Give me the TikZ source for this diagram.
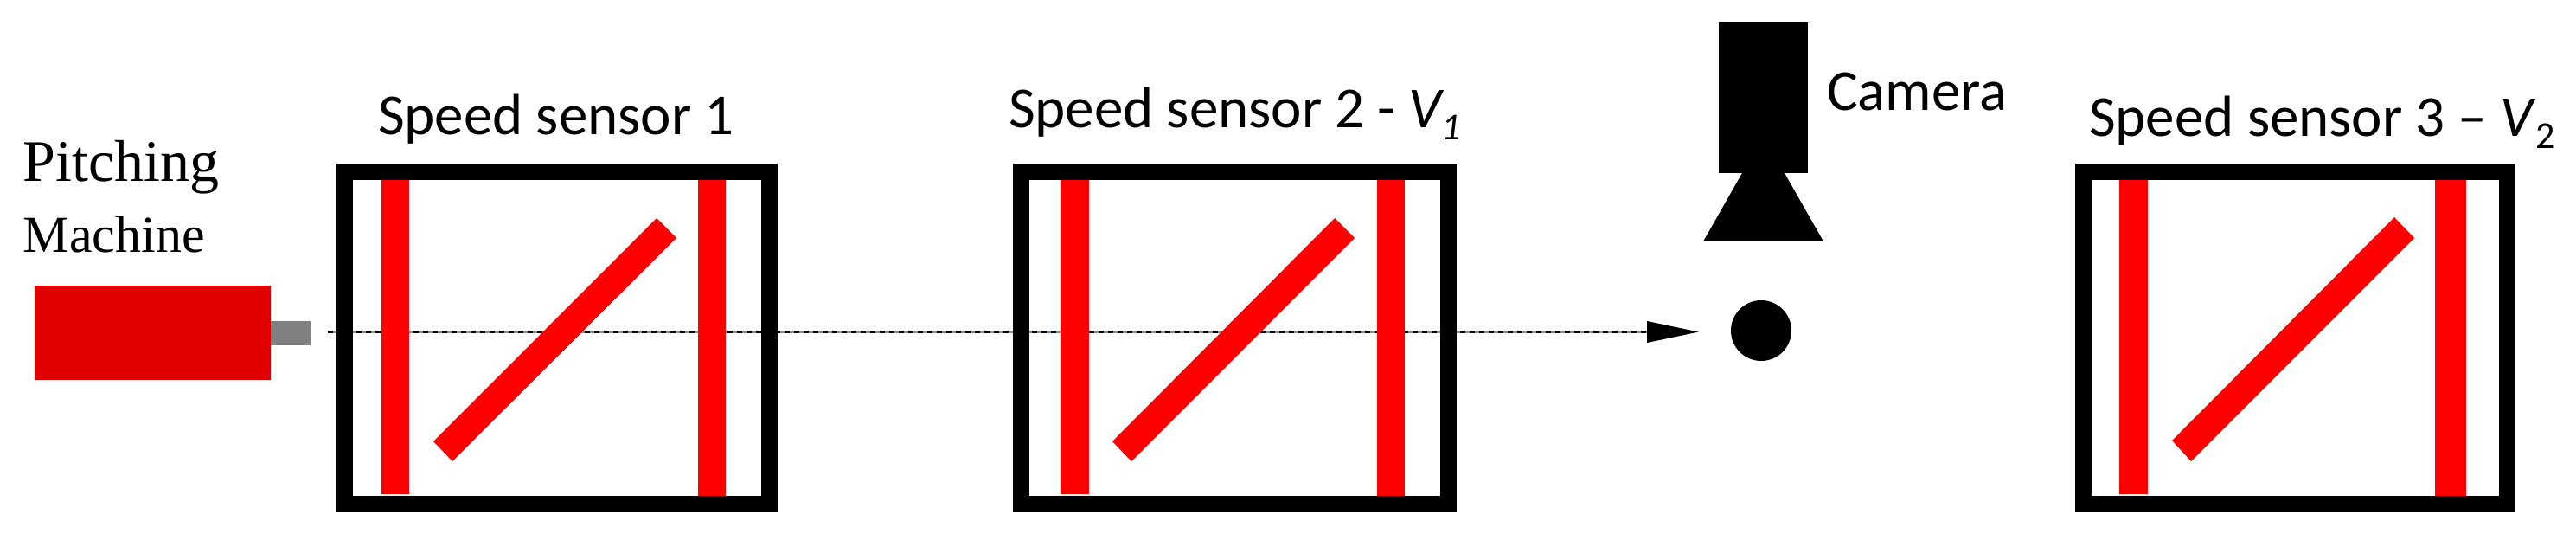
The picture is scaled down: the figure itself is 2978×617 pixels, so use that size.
\documentclass[tikz,border=0pt]{standalone}
\usepackage{fontspec}
\setmainfont{Carlito}
\newfontfamily\serifface{Liberation Serif}
\usetikzlibrary{arrows.meta}
\definecolor{machred}{HTML}{E00000}
\tikzset{
  x=1pt,y=-1pt,
  frame/.style={draw=black,line width=19pt,fill=none,inner sep=0pt,outer sep=0pt,minimum width=491pt,minimum height=384pt},
  barfill/.style={fill=red,draw=none},
  label/.style={anchor=base west,inner sep=0pt,outer sep=0pt,font=\fontsize{67}{70}\selectfont},
  flightbase/.style={line width=3.6pt,color=black!45},
  flight/.style={line width=3.6pt,dash pattern=on 6pt off 5pt,-{Triangle[length=60pt,width=24pt]}}
}
\begin{document}
\begin{tikzpicture}
\useasboundingbox (0,0) rectangle (2978,617);
\fill[white] (0,0) rectangle (2978,617);
% pitching machine
\node[label,font=\serifface\fontsize{68}{70}\selectfont] (pitch) at (27,210) {Pitching};
\node[label,font=\serifface\fontsize{60}{60}\selectfont] (mach) at (27,292) {Machine};
\fill[machred] (40,330) rectangle (313,439);
\fill[gray] (313,371) rectangle (359,399);
% flight path
\coordinate (start) at (379,383.5);
\coordinate (tip) at (1964,383.5);
\coordinate (base) at (1904,383.5);
\draw[flightbase] (start) -- (base);
\draw[flight] (start) -- (tip);
% sensor 1
\fill[barfill] (441,208) rectangle (473,571);
\fill[barfill] (807,208) rectangle (839,574);
\fill[barfill] (759,252) -- (782,275) -- (523,533) -- (501,510) -- cycle;
\node[frame] (s1) at (644,390.5) {};
\node[label] (l1) at (437,156) {Speed sensor 1};
% sensor 2
\fill[barfill] (1226,208) rectangle (1259,571);
\fill[barfill] (1592,208) rectangle (1624,574);
\fill[barfill] (1543,252) -- (1566,275) -- (1308,533) -- (1286,510) -- cycle;
\node[frame,minimum width=494pt] (s2) at (1427.5,390.5) {};
\node[label] (l2) at (1166,148) {Speed sensor 2 - \textit{V\raisebox{-0.2em}{\fontsize{44}{50}\selectfont 1}}};
% camera
\fill[black] (1987,25) rectangle (2090,200);
\fill[black] (2014,200) -- (2063,200) -- (2108,279) -- (1969,279) -- cycle;
\fill[black] (2036,382) circle (35);
\node[label] (cam) at (2112,128) {Camera};
% sensor 3
\fill[barfill] (2450,208) rectangle (2483,571);
\fill[barfill] (2815,208) rectangle (2851,574);
\fill[barfill] (2768,251) -- (2791,275) -- (2533,533) -- (2511,509) -- cycle;
\node[frame,minimum width=490pt] (s3) at (2653.5,390.5) {};
\node[label] (l3) at (2415,158) {Speed sensor 3 – \textit{V}\raisebox{-0.2em}{\fontsize{44}{50}\selectfont 2}};
\end{tikzpicture}
\end{document}
